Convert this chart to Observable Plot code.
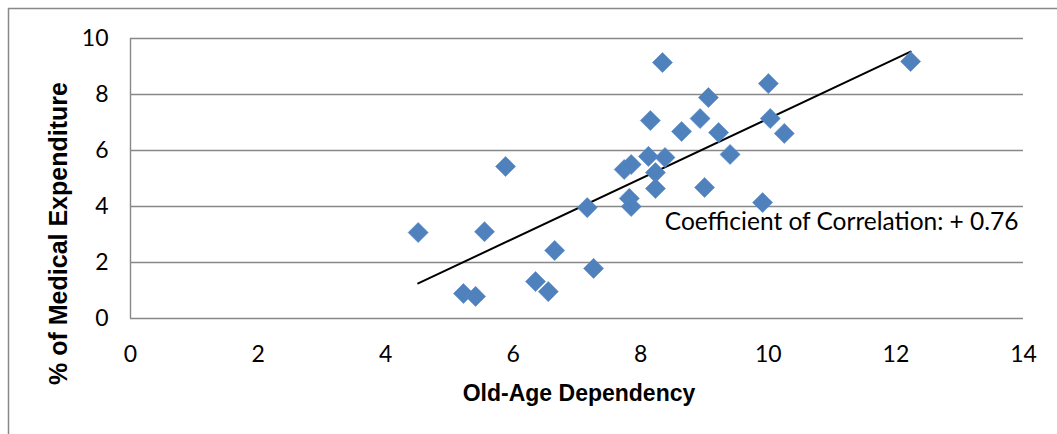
<!DOCTYPE html>
<html>
<head>
<meta charset="utf-8">
<script src="https://cdn.jsdelivr.net/npm/d3@7"></script>
<script src="https://cdn.jsdelivr.net/npm/@observablehq/plot@0.6"></script>
<style>
  html, body { margin: 0; padding: 0; background: #fff; }
  #chart { width: 1057px; height: 434px; overflow: hidden; }
</style>
</head>
<body>
<div id="chart"></div>
<script>
// Old-age dependency (x) vs % of medical expenditure (y)
const oldAgeDependency = [4.51, 5.55, 5.88, 5.22, 5.41, 6.35, 6.55, 6.65, 7.16, 7.26, 7.74, 7.85, 7.82, 7.85, 8.12, 8.15, 8.23, 8.23, 8.34, 8.38, 8.64, 8.93, 9.00, 9.06, 9.22, 9.40, 9.91, 10.00, 10.03, 10.25, 12.23];
const medicalExpenditure = [3.07, 3.10, 5.43, 0.89, 0.79, 1.32, 0.96, 2.43, 3.96, 1.79, 5.32, 5.50, 4.29, 4.00, 5.79, 7.07, 5.21, 4.64, 9.14, 5.75, 6.68, 7.14, 4.68, 7.89, 6.64, 5.86, 4.14, 8.39, 7.14, 6.61, 9.18];
const xTicks = [0, 2, 4, 6, 8, 10, 12, 14];
const yTicks = [0, 2, 4, 6, 8, 10];
const xTitle = "Old-Age Dependency";
const yTitle = "% of Medical Expenditure";
const annotation = "Coefficient of Correlation: + 0.76";

const points = oldAgeDependency.map((x, i) => ({x, y: medicalExpenditure[i]}));

const tickFont = "Lato, 'Open Sans', sans-serif";
const titleFont = "'Liberation Sans', Arial, sans-serif";

const chart = Plot.plot({
  width: 1057,
  height: 434,
  marginLeft: 130,
  marginRight: 34,
  marginTop: 38,
  marginBottom: 116,
  style: {background: "#fff", fontFamily: tickFont, fontSize: "22px", color: "#000"},
  x: {domain: [0, 14], ticks: xTicks},
  y: {domain: [0, 10], ticks: yTicks},
  marks: [
    Plot.ruleY(yTicks, {stroke: "#888", strokeWidth: 1.4}),
    Plot.ruleX([0], {stroke: "#888", strokeWidth: 1.4}),
    Plot.axisX({ticks: xTicks, tickSize: 0, tickPadding: 27, label: null, fontSize: 23, fill: "#000"}),
    Plot.axisY({ticks: yTicks, tickSize: 0, tickPadding: 22, label: null, fontSize: 23, fill: "#000"}),
    Plot.linearRegressionY(points, {x: "x", y: "y", ci: 0, stroke: "#000", strokeWidth: 2}),
    Plot.dot(points, {x: "x", y: "y", symbol: "square", r: 8, rotate: 45, fill: "#4F81BD", stroke: "#5B8BC6", strokeWidth: 0.6}),
    Plot.text([annotation], {frameAnchor: "bottom-right", text: d => d, textAnchor: "end", lineAnchor: "middle", dx: -5, dy: -96, fontSize: 24.5, fontFamily: tickFont, fill: "#000"}),
    Plot.text([xTitle], {frameAnchor: "bottom", text: d => d, textAnchor: "middle", lineAnchor: "middle", dx: 2, dy: 75, fontSize: 23, fontWeight: "bold", fontFamily: titleFont, fill: "#000"}),
    Plot.text([yTitle], {frameAnchor: "left", text: d => d, textAnchor: "middle", lineAnchor: "middle", rotate: -90, dx: -72, dy: 55, fontSize: 25, fontWeight: "bold", fontFamily: titleFont, fill: "#000"})
  ]
});

// outer chart-area border (top and left edges visible)
d3.select(chart).append("path")
  .attr("d", "M8.5,434 V8.5 H1057")
  .attr("fill", "none")
  .attr("stroke", "#888")
  .attr("stroke-width", 1.5);

document.getElementById("chart").append(chart);
</script>
</body>
</html>
